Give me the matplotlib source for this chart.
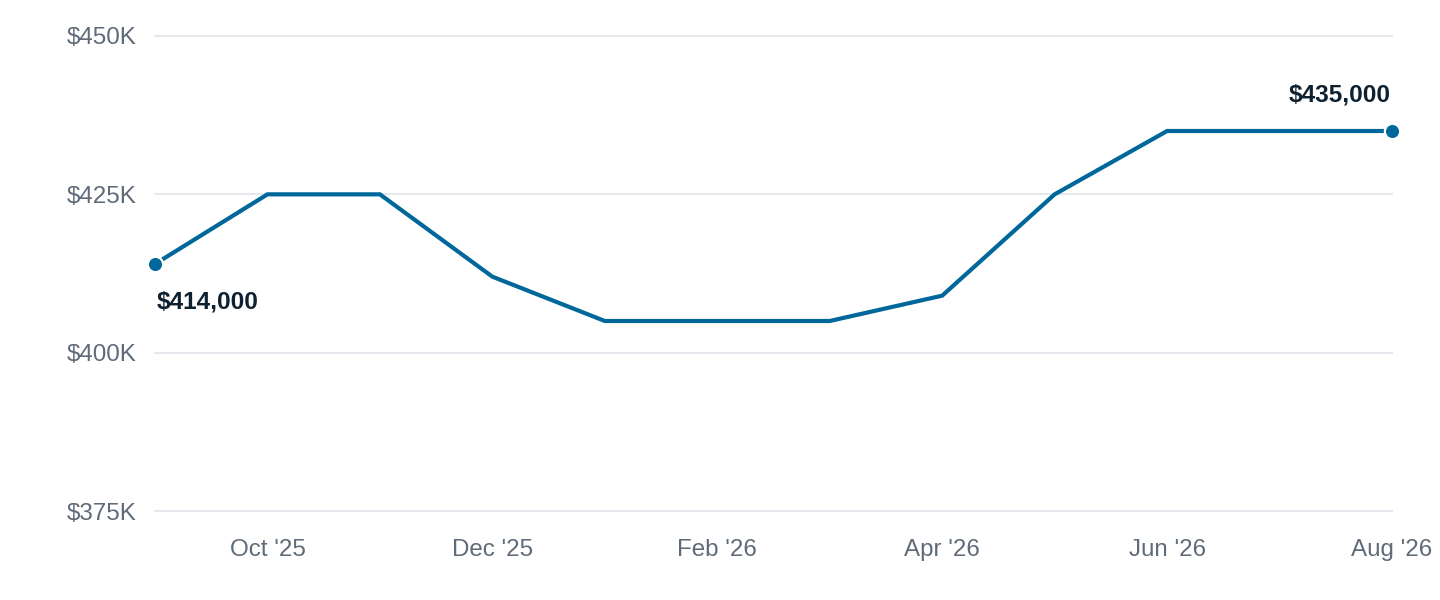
import matplotlib

matplotlib.use("Agg")
import matplotlib.pyplot as plt
from matplotlib.ticker import FuncFormatter

# monthly values, Sep '25 .. Aug '26
MONTHS = ["Sep '25", "Oct '25", "Nov '25", "Dec '25", "Jan '26", "Feb '26",
          "Mar '26", "Apr '26", "May '26", "Jun '26", "Jul '26", "Aug '26"]
PRICES = [414000, 425000, 425000, 412000, 405000, 405000,
          405000, 409000, 425000, 435000, 435000, 435000]
Y_TICKS = [375000, 400000, 425000, 450000]
SHOWN_MONTHS = [1, 3, 5, 7, 9, 11]

LINE = "#00679a"
TICK_TXT = "#5f6b78"
LABEL_TXT = "#0e2131"
GRID = "#e5e8ec"

plt.rcParams["font.family"] = ["Liberation Sans", "DejaVu Sans"]

fig = plt.figure(figsize=(14.4, 6.0), dpi=100)
ax = fig.add_axes([155 / 1440, 1 - 511 / 600, (1392 - 155) / 1440, (511 - 36) / 600])

x = list(range(len(PRICES)))
ax.plot(x, PRICES, color=LINE, linewidth=3.0, solid_joinstyle="miter",
        clip_on=False, zorder=3)
for i in (0, len(PRICES) - 1):
    ax.plot(x[i], PRICES[i], "o", color=LINE, markersize=11,
            markeredgecolor="white", markeredgewidth=1.6, clip_on=False, zorder=4)

ax.annotate(f"${PRICES[0]:,}", (x[0], PRICES[0]), xytext=(1, -27),
            textcoords="offset points", ha="left", va="center",
            fontsize=17.6, fontweight="bold", color=LABEL_TXT)
ax.annotate(f"${PRICES[-1]:,}", (x[-1], PRICES[-1]), xytext=(-1, 26),
            textcoords="offset points", ha="right", va="center",
            fontsize=17.6, fontweight="bold", color=LABEL_TXT)

ax.set_xlim(0, len(PRICES) - 1)
ax.set_ylim(Y_TICKS[0], Y_TICKS[-1])
ax.set_yticks(Y_TICKS)
ax.yaxis.set_major_formatter(FuncFormatter(lambda v, _: f"${v / 1000:.0f}K"))
ax.set_xticks(SHOWN_MONTHS)
ax.set_xticklabels([MONTHS[i] for i in SHOWN_MONTHS])

ax.grid(axis="y", color=GRID, linewidth=1.4)
ax.set_axisbelow(True)
for s in ax.spines.values():
    s.set_visible(False)
ax.tick_params(axis="both", length=0, labelsize=17.4, labelcolor=TICK_TXT)
ax.tick_params(axis="y", pad=13)
ax.tick_params(axis="x", pad=20)
for gl in ax.get_ygridlines():
    gl.set_clip_on(False)

fig.savefig("out.png", dpi=100, facecolor="white")
